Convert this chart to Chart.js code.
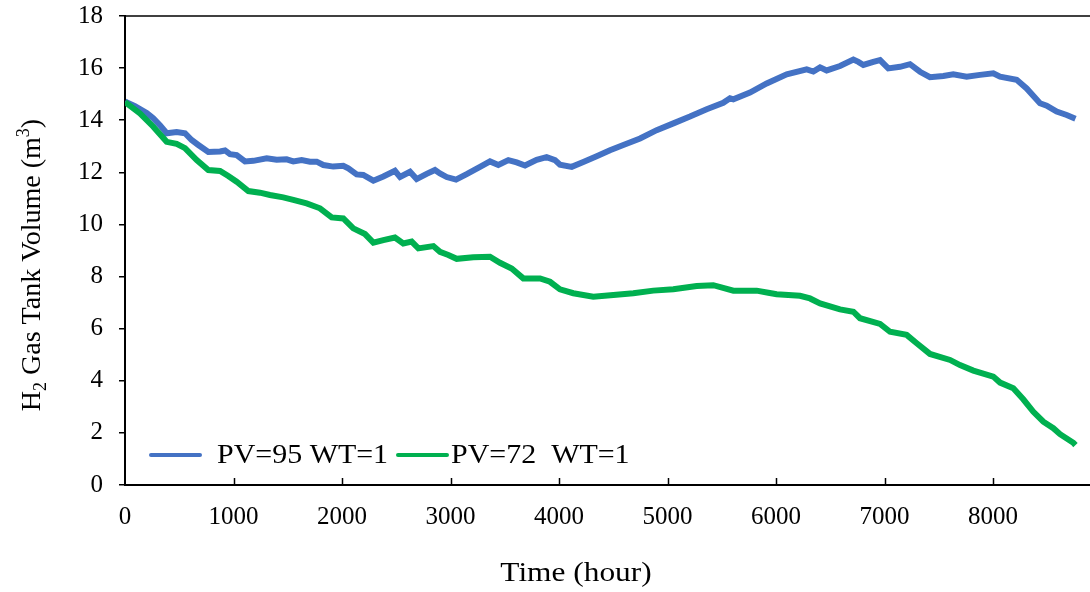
<!DOCTYPE html>
<html><head><meta charset="utf-8">
<script src="https://cdn.jsdelivr.net/npm/chart.js@4.4.1/dist/chart.umd.min.js"></script>
<style>html,body{margin:0;padding:0;background:#fff;overflow:hidden}
#wrap{width:1090px;height:592px;position:relative}</style>
</head><body><div id="wrap"><canvas id="c" width="1090" height="592"></canvas></div>
<script>
// ---- data ----
const xTickValues = [0,1000,2000,3000,4000,5000,6000,7000,8000];
const yTickValues = [0,2,4,6,8,10,12,14,16,18];
const seriesLabels = ['PV=95 WT=1', 'PV=72  WT=1'];
const seriesColors = ['#4472C4', '#00B050'];
const xTitle = 'Time (hour)';
const yTitleParts = [['H',''],['2','sub'],[' Gas Tank Volume (m',''],['3','sup'],[')','']];

const blueHours = [0,18,92,200,260,322,384,476,553,614,676,768,876,922,968,1029,1106,1183,1306,1398,1490,1551,1628,1705,1767,1828,1920,2012,2058,2135,2196,2289,2381,2488,2535,2627,2688,2780,2857,2903,2965,3051,3149,3272,3364,3441,3533,3610,3687,3794,3886,3963,4009,4117,4224,4347,4470,4593,4747,4900,5054,5207,5361,5514,5576,5607,5760,5914,6099,6283,6344,6406,6467,6590,6713,6759,6805,6897,6959,7035,7143,7235,7327,7419,7542,7634,7757,7880,8003,8065,8218,8310,8433,8495,8587,8679,8760];
const blueVolume = [14.72,14.68,14.54,14.28,14.08,13.81,13.50,13.55,13.50,13.24,13.05,12.78,12.80,12.84,12.70,12.66,12.42,12.44,12.54,12.48,12.50,12.42,12.47,12.41,12.41,12.28,12.22,12.25,12.15,11.92,11.90,11.68,11.84,12.06,11.82,12.02,11.74,11.94,12.09,11.96,11.82,11.72,11.93,12.21,12.42,12.28,12.47,12.38,12.26,12.48,12.58,12.47,12.29,12.21,12.40,12.62,12.85,13.05,13.30,13.62,13.88,14.14,14.42,14.67,14.84,14.80,15.06,15.41,15.76,15.95,15.87,16.03,15.91,16.08,16.33,16.24,16.12,16.24,16.31,15.99,16.05,16.15,15.86,15.65,15.70,15.76,15.67,15.74,15.80,15.67,15.55,15.22,14.65,14.56,14.33,14.20,14.06];

const greenHours = [0,15,138,261,384,476,553,661,768,876,952,1029,1137,1244,1336,1459,1551,1674,1797,1905,2012,2104,2212,2289,2381,2488,2565,2642,2704,2842,2903,2980,3057,3210,3364,3456,3564,3671,3825,3917,4009,4132,4316,4501,4685,4869,5054,5269,5422,5607,5822,5929,6006,6221,6313,6406,6590,6713,6774,6959,7051,7204,7297,7419,7604,7696,7819,8003,8065,8187,8279,8372,8464,8556,8618,8740,8760];
const greenVolume = [14.70,14.65,14.26,13.75,13.17,13.09,12.93,12.47,12.09,12.05,11.86,11.64,11.28,11.22,11.13,11.04,10.94,10.81,10.62,10.27,10.23,9.85,9.63,9.30,9.40,9.50,9.27,9.34,9.08,9.17,8.95,8.83,8.68,8.74,8.76,8.53,8.31,7.93,7.93,7.80,7.51,7.36,7.23,7.29,7.36,7.46,7.51,7.64,7.67,7.46,7.46,7.38,7.32,7.26,7.16,6.97,6.74,6.65,6.40,6.18,5.88,5.76,5.44,5.03,4.80,4.60,4.39,4.16,3.93,3.71,3.29,2.81,2.43,2.18,1.95,1.62,1.53];

// ---- chart ----
const FONT = '"Liberation Serif", "Times New Roman", serif';
const toPts = (xs, ys) => xs.map((x, i) => ({x, y: ys[i]}));

function stretchedText(ctx, text, x, y, sx, align) {
  ctx.save();
  const w = ctx.measureText(text).width * sx;
  const left = align === 'center' ? x - w / 2 : x;
  ctx.translate(left, y); ctx.scale(sx, 1);
  ctx.textAlign = 'left';
  ctx.fillText(text, 0, 0);
  ctx.restore();
}

const decorPlugin = {
  id: 'decor',
  afterDraw(chart) {
    const ctx = chart.ctx, a = chart.chartArea, xs = chart.scales.x;
    ctx.save();
    // top border
    ctx.strokeStyle = '#000'; ctx.lineWidth = 1.5;
    ctx.beginPath(); ctx.moveTo(a.left, a.top); ctx.lineTo(a.right, a.top); ctx.stroke();
    // inward x ticks
    xTickValues.forEach(v => {
      if (v === 0) return;
      const px = Math.round(xs.getPixelForValue(v)) + 0.5;
      ctx.beginPath(); ctx.moveTo(px, a.bottom); ctx.lineTo(px, a.bottom - 7); ctx.stroke();
    });
    // legend
    ctx.textBaseline = 'alphabetic'; ctx.fillStyle = '#000';
    ctx.font = '28px ' + FONT;
    const leg = [{x0:151,x1:200,tx:217},{x0:398,x1:447,tx:451}];
    chart.data.datasets.forEach((ds, i) => {
      const L = leg[i];
      ctx.strokeStyle = ds.borderColor; ctx.lineWidth = 4; ctx.lineCap = 'round';
      ctx.beginPath(); ctx.moveTo(L.x0, 455); ctx.lineTo(L.x1, 455); ctx.stroke();
      stretchedText(ctx, ds.label, L.tx, 463, 1.07, 'left');
    });
    // x title
    ctx.font = '28px ' + FONT;
    stretchedText(ctx, xTitle, 576, 581, 1.12, 'center');
    // y title with sub/sup
    const big = 28, small = 18;
    const fontFor = t => (t ? small : big) + 'px ' + FONT;
    let total = 0;
    yTitleParts.forEach(([s, t]) => { ctx.font = fontFor(t); total += ctx.measureText(s).width; });
    ctx.translate(40, 265); ctx.rotate(-Math.PI / 2);
    ctx.textAlign = 'left';
    let x = -total / 2;
    yTitleParts.forEach(([s, t]) => {
      ctx.font = fontFor(t);
      const dy = t === 'sub' ? 6 : (t === 'sup' ? -11 : 0);
      ctx.fillText(s, x, dy);
      x += ctx.measureText(s).width;
    });
    ctx.restore();
  }
};

new Chart(document.getElementById('c'), {
  type: 'line',
  data: {
    datasets: [
      {label: seriesLabels[0], data: toPts(blueHours, blueVolume), borderColor: seriesColors[0], backgroundColor: seriesColors[0], borderWidth: 6, pointRadius: 0, tension: 0, order: 2},
      {label: seriesLabels[1], data: toPts(greenHours, greenVolume), borderColor: seriesColors[1], backgroundColor: seriesColors[1], borderWidth: 6, pointRadius: 0, tension: 0, order: 1}
    ]
  },
  options: {
    responsive: false, animation: false, devicePixelRatio: 1,
    layout: {padding: {top: 16, right: 0, left: 0, bottom: 0}},
    plugins: {legend: {display: false}, tooltip: {enabled: false}},
    scales: {
      x: {
        type: 'linear', min: 0, max: 8894,
        afterBuildTicks: s => { s.ticks = xTickValues.map(v => ({value: v})); },
        afterFit: s => { s.height = 107; s.paddingLeft = 0; s.paddingRight = 0; },
        border: {display: true, color: '#000', width: 2},
        grid: {display: false, drawTicks: false},
        ticks: {color: '#000', font: {family: FONT, size: 25}, padding: 17, maxRotation: 0, autoSkip: false,
                callback: v => String(v)}
      },
      y: {
        min: 0, max: 18,
        afterBuildTicks: s => { s.ticks = yTickValues.map(v => ({value: v})); },
        afterFit: s => { s.width = 125; s.paddingTop = 0; s.paddingBottom = 0; },
        border: {display: true, color: '#000', width: 2},
        grid: {display: true, drawOnChartArea: false, drawTicks: true, tickLength: 6, color: '#000', lineWidth: 1.5},
        ticks: {color: '#000', font: {family: FONT, size: 25}, padding: 16}
      }
    }
  },
  plugins: [decorPlugin]
});
</script>
</body></html>
